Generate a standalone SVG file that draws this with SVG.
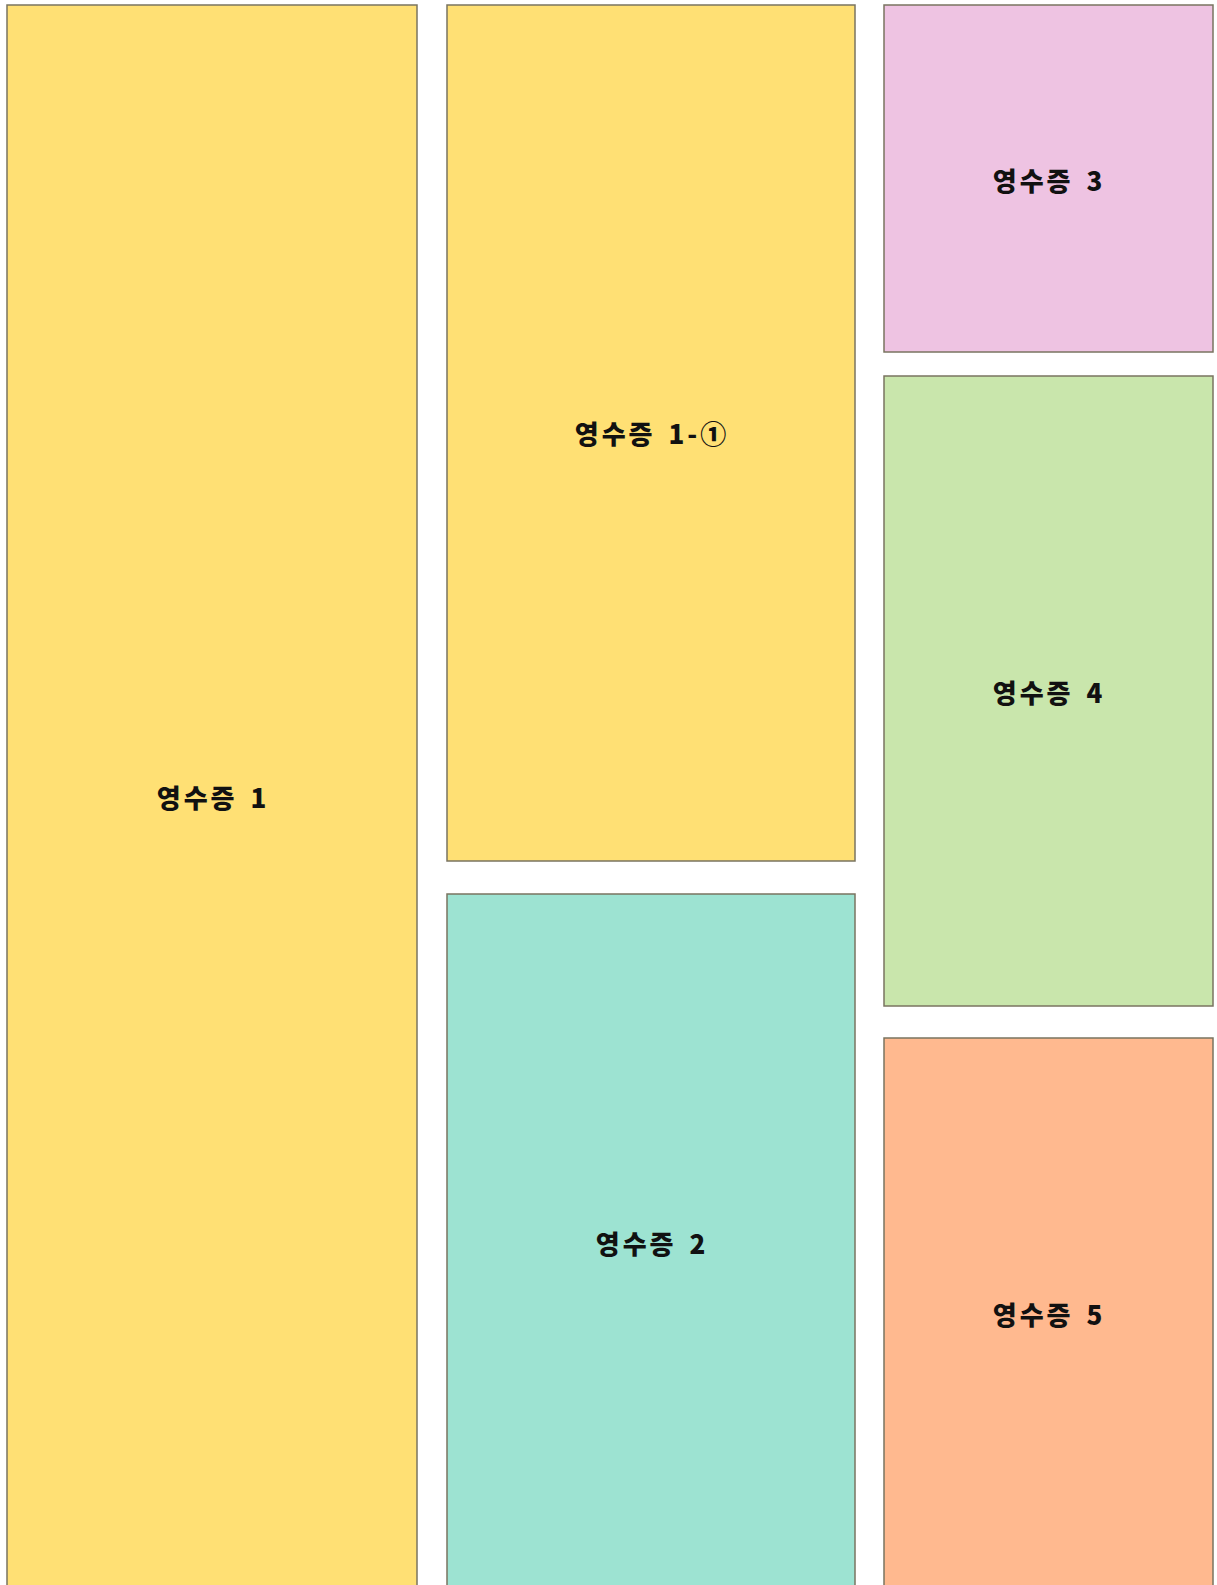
<svg xmlns="http://www.w3.org/2000/svg" width="1217" height="1585" viewBox="0 0 1217 1585">
<style>
.b{stroke:#7a7460;stroke-width:1.5}
.t{font-family:"Noto Sans CJK KR","Noto Sans",sans-serif;font-weight:900;font-size:26px;fill:#111;text-anchor:middle;dominant-baseline:central;letter-spacing:3px;word-spacing:4px}
</style>
<rect width="1217" height="1585" fill="#ffffff"/>
<g id="r1"><rect class="b" x="7" y="5" width="410" height="1600" fill="#ffe074"/><text class="t" x="213" y="796">영수증 1</text></g>
<g id="r1a"><rect class="b" x="447" y="5" width="408" height="856" fill="#ffe074"/><text class="t" x="652" y="432">영수증 1-①</text></g>
<g id="r2"><rect class="b" x="447" y="894" width="408" height="720" fill="#9de3d2"/><text class="t" x="652" y="1242">영수증 2</text></g>
<g id="r3"><rect class="b" x="884" y="5" width="329" height="347" fill="#eec3e2"/><text class="t" x="1049" y="179">영수증 3</text></g>
<g id="r4"><rect class="b" x="884" y="376" width="329" height="630" fill="#c9e6ac"/><text class="t" x="1049" y="691">영수증 4</text></g>
<g id="r5"><rect class="b" x="884" y="1038" width="329" height="580" fill="#ffb98f"/><text class="t" x="1049" y="1313">영수증 5</text></g>
<g id="connectors"/>
</svg>
